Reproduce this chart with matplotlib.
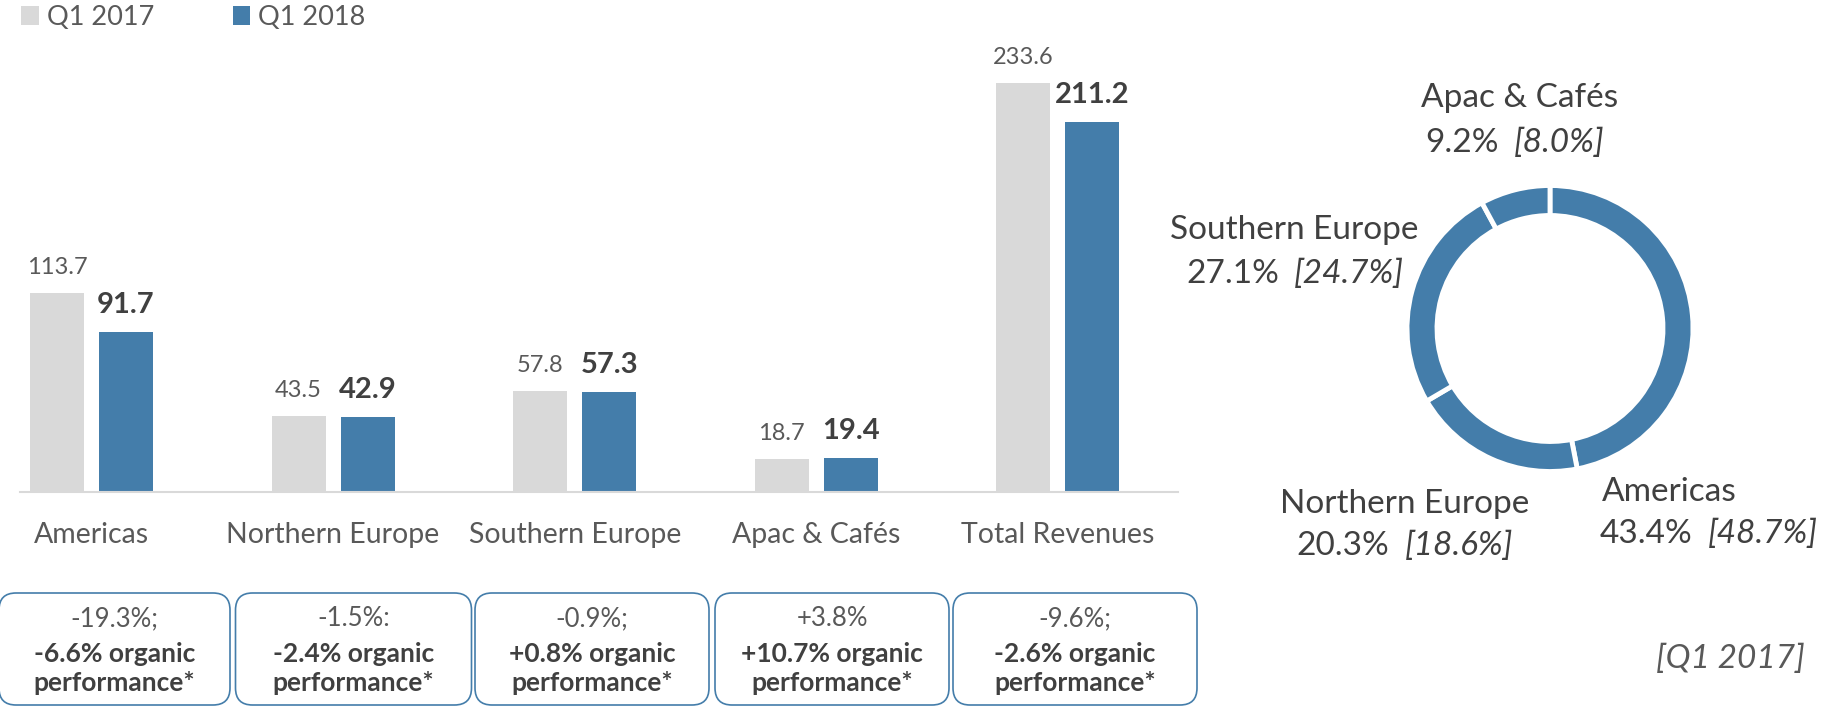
import matplotlib
matplotlib.use("Agg")
import numpy as np
import matplotlib.pyplot as plt
from matplotlib.patches import FancyBboxPatch

# ---------------- data ----------------
categories = ["Americas", "Northern Europe", "Southern Europe", "Apac & Cafés", "Total Revenues"]
q1_2017 = [113.7, 43.5, 57.8, 18.7, 233.6]
q1_2018 = [91.7, 42.9, 57.3, 19.4, 211.2]
series_labels = ["Q1 2017", "Q1 2018"]
growth_reported = ["-19.3%;", "-1.5%:", "-0.9%;", "+3.8%", "-9.6%;"]
growth_organic = ["-6.6%", "-2.4%", "+0.8%", "+10.7%", "-2.6%"]

donut_regions = ["Americas", "Northern Europe", "Southern Europe", "Apac & Cafés"]
donut_shares = [47.0, 19.6, 25.6, 7.9]          # slice sizes as drawn in the ring
share_2018 = ["43.4%", "20.3%", "27.1%", "9.2%"]
share_2017 = ["[48.7%]", "[18.6%]", "[24.7%]", "[8.0%]"]
bracket_note = "[Q1 2017]"

# ---------------- style ----------------
plt.rcParams["font.family"] = ["Lato", "DejaVu Sans"]
BLUE = "#447DAA"
GREY_BAR = "#D9D9D9"
TXT_LIGHT = "#595959"
TXT_DARK = "#404040"

W, H = 1829, 706
fig = plt.figure(figsize=(W / 100, H / 100), dpi=100)

# ---------------- bar chart ----------------
base_px, top_px, left_px, right_px = 492, 60, 20, 1178
px_per_unit = 1.75
ax = fig.add_axes([left_px / W, (H - base_px) / H, (right_px - left_px) / W, (base_px - top_px) / H])
ax.set_xlim(-0.296, 4.497)
ax.set_ylim(0, (base_px - top_px) / px_per_unit)
for s in ["top", "right", "left"]:
    ax.spines[s].set_visible(False)
ax.spines["bottom"].set_color(GREY_BAR)
ax.spines["bottom"].set_linewidth(1.5)
ax.set_xticks([])
ax.set_yticks([])
ax.patch.set_visible(False)

x = np.arange(len(categories))
off, bw = 0.1428, 0.2235
b1 = ax.bar(x - off, q1_2017, bw, color=GREY_BAR, label=series_labels[0])
b2 = ax.bar(x + off, q1_2018, bw, color=BLUE, label=series_labels[1])

for xi, v in zip(x, q1_2017):
    ax.annotate(f"{v:.1f}", (xi - off, v), xytext=(0, 19), textcoords="offset pixels",
                ha="center", va="baseline", fontsize=17, color=TXT_LIGHT)
for xi, v in zip(x, q1_2018):
    ax.annotate(f"{v:.1f}", (xi + off, v), xytext=(0, 19), textcoords="offset pixels",
                ha="center", va="baseline", fontsize=21, fontweight="bold", color=TXT_DARK)
for xi, c in zip(x, categories):
    ax.annotate(c, (xi, 0), xytext=(0, -51), textcoords="offset pixels", annotation_clip=False,
                ha="center", va="baseline", fontsize=20.5, color=TXT_LIGHT)

leg = ax.legend(handles=[b1, b2], loc="upper left", bbox_to_anchor=(21 / W, 1 - 5 / H),
                bbox_transform=fig.transFigure, ncol=2, frameon=False, borderpad=0,
                borderaxespad=0, handlelength=0.65, handleheight=0.65, handletextpad=0.3,
                columnspacing=2.9, prop={"size": 19.5})
for t in leg.get_texts():
    t.set_color(TXT_LIGHT)

# ---------------- overlay (pixel coordinates) ----------------
ov = fig.add_axes([0, 0, 1, 1])
ov.set_xlim(0, W)
ov.set_ylim(H, 0)
ov.axis("off")
ov.patch.set_visible(False)

box_left = [-1, 235.5, 475, 715, 953]
box_right = [230, 471.5, 709, 949, 1197]
box_top, box_bottom = 593, 705
for l, r, g1, g2 in zip(box_left, box_right, growth_reported, growth_organic):
    ov.add_patch(FancyBboxPatch((l, box_top), r - l, box_bottom - box_top,
                                boxstyle="round,pad=0,rounding_size=17",
                                fc="none", ec=BLUE, lw=1.2))
    cx = (l + r) / 2
    ov.text(cx, 626, g1, ha="center", va="baseline", fontsize=18.5, color=TXT_LIGHT)
    ov.text(cx, 662, f"{g2} organic", ha="center", va="baseline", fontsize=19,
            fontweight="bold", color=TXT_DARK)
    ov.text(cx, 691, "performance*", ha="center", va="baseline", fontsize=19,
            fontweight="bold", color=TXT_DARK)

# ---------------- donut ----------------
cxp, cyp, R = 1550, 328.5, 143
half = 150
dax = fig.add_axes([(cxp - half) / W, (H - cyp - half) / H, 2 * half / W, 2 * half / H])
dax.pie(donut_shares, colors=[BLUE] * len(donut_shares), startangle=90, counterclock=False,
        wedgeprops=dict(width=30 / R, edgecolor="white", linewidth=3.5))
dax.set_xlim(-half / R, half / R)
dax.set_ylim(-half / R, half / R)
dax.axis("off")

renderer = fig.canvas.get_renderer()
DSIZE = 24


def mixed_line(xp, yp, parts, align):
    texts, widths = [], []
    gap = 0.45 * DSIZE * 100 / 72
    for s, style in parts:
        t = ov.text(0, yp, s, fontsize=DSIZE, fontstyle=style,
                    color=TXT_DARK, va="baseline", ha="left")
        texts.append(t)
        widths.append(t.get_window_extent(renderer).width)
    total = sum(widths) + gap * (len(parts) - 1)
    start = xp - total / 2 if align == "center" else xp
    for t, w in zip(texts, widths):
        t.set_x(start)
        start += w + gap


label_pos = {
    "Americas": (1602, 501, 1600, 543, "left"),
    "Northern Europe": (1405, 513, 1405, 555, "center"),
    "Southern Europe": (1294, 239, 1295, 283, "center"),
    "Apac & Cafés": (1421, 107, 1425, 152, "left"),
}
for reg, s18, s17 in zip(donut_regions, share_2018, share_2017):
    x1, y1, x2, y2, al = label_pos[reg]
    mixed_line(x1, y1, [(reg, "normal")], al)
    mixed_line(x2, y2, [(s18, "normal"), (s17, "italic")], al)

ov.text(1805, 668, bracket_note, ha="right", va="baseline", fontsize=DSIZE,
        fontstyle="italic", color=TXT_LIGHT)

fig.savefig("out.png", dpi=100)
